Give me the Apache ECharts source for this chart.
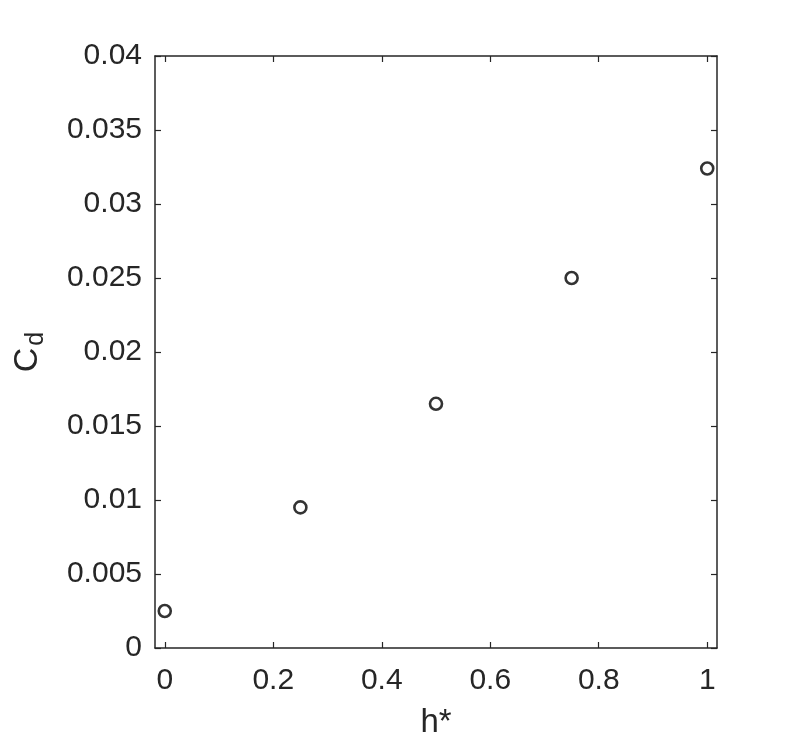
<!DOCTYPE html>
<html>
<head>
<meta charset="utf-8">
<script src="https://cdn.jsdelivr.net/npm/echarts@6/dist/echarts.min.js"></script>
<style>
  html, body { margin: 0; padding: 0; background: #fff; }
  #chart { width: 793px; height: 744px; }
</style>
</head>
<body>
<div id="chart"></div>
<script>
// 数据
const hStar = [0, 0.25, 0.5, 0.75, 1];
const cd = [0.0025, 0.0095, 0.0165, 0.025, 0.0324];
const xTicks = [0, 0.2, 0.4, 0.6, 0.8, 1];

const font = 'Liberation Sans, Arial, Helvetica, sans-serif';
const lineStyle = { color: '#262626', width: 1.5 };
const tickStyle = { color: '#262626', width: 1.2 };

const chart = echarts.init(document.getElementById('chart'));

const option = {
  animation: false,
  backgroundColor: '#fff',
  grid: { left: 155, right: 76, top: 56, bottom: 96 },
  xAxis: [
    {
      type: 'value',
      min: -0.018,
      max: 1.018,
      name: 'h*',
      nameLocation: 'middle',
      nameGap: 58,
      nameTextStyle: { color: '#262626', fontSize: 33, fontFamily: font },
      axisLine: { show: true, onZero: false, lineStyle: lineStyle },
      axisTick: { show: true, inside: true, length: 6, customValues: xTicks, lineStyle: tickStyle },
      axisLabel: { customValues: xTicks, color: '#262626', fontSize: 30, fontFamily: font, margin: 18 },
      splitLine: { show: false },
    },
    {
      type: 'value',
      position: 'top',
      min: -0.018,
      max: 1.018,
      axisLine: { show: true, onZero: false, lineStyle: lineStyle },
      axisTick: { show: true, inside: true, length: 6, customValues: xTicks, lineStyle: tickStyle },
      axisLabel: { show: false },
      splitLine: { show: false },
    },
  ],
  yAxis: [
    {
      type: 'value',
      min: 0,
      max: 0.04,
      interval: 0.005,
      name: '{a|C}{b|d}',
      nameLocation: 'middle',
      nameGap: 106,
      nameTextStyle: {
        rich: {
          a: { fontSize: 34, fontFamily: font, color: '#262626' },
          b: { fontSize: 25, fontFamily: font, color: '#262626', padding: [18, 0, 0, 2] },
        },
      },
      axisLine: { show: true, onZero: false, lineStyle: lineStyle },
      axisTick: { show: true, inside: true, length: 6, lineStyle: tickStyle },
      axisLabel: { color: '#262626', fontSize: 30, fontFamily: font, margin: 13 },
      splitLine: { show: false },
    },
    {
      type: 'value',
      position: 'right',
      min: 0,
      max: 0.04,
      interval: 0.005,
      axisLine: { show: true, onZero: false, lineStyle: lineStyle },
      axisTick: { show: true, inside: true, length: 6, lineStyle: tickStyle },
      axisLabel: { show: false },
      splitLine: { show: false },
    },
  ],
  series: [
    {
      type: 'scatter',
      data: hStar.map((h, i) => [h, cd[i]]),
      symbol: 'circle',
      symbolSize: 12,
      itemStyle: { color: 'rgba(0,0,0,0)', borderColor: '#000', borderWidth: 2.6 },
    },
  ],
};

chart.setOption(option);
</script>
</body>
</html>
